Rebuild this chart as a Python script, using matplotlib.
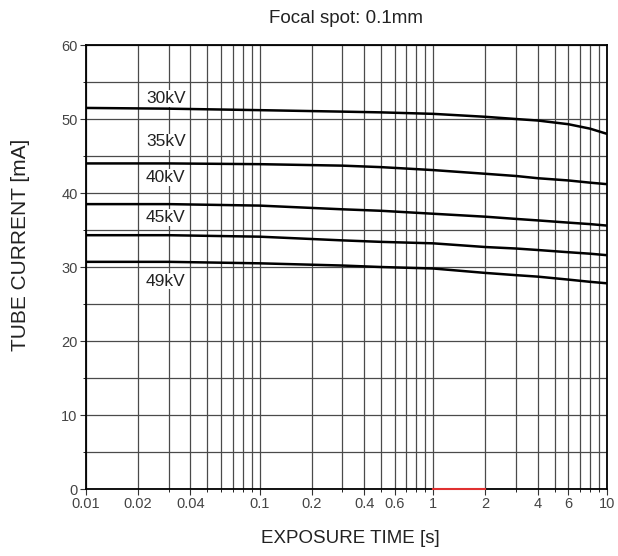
import numpy as np
import matplotlib.pyplot as plt
from matplotlib.ticker import FixedLocator, NullFormatter, MultipleLocator

plt.rcParams['font.family'] = ['Liberation Sans', 'DejaVu Sans']

# exposure time [s] at which the curves were read
time_s = [0.01, 0.03, 0.1, 0.3, 0.5, 1, 2, 3, 4, 6, 8, 10]

# tube current [mA] per voltage
ma_30kv = [51.5, 51.4, 51.2, 51.0, 50.9, 50.7, 50.3, 50.0, 49.8, 49.3, 48.7, 48.0]
ma_35kv = [44.0, 44.0, 43.9, 43.7, 43.5, 43.1, 42.6, 42.3, 42.0, 41.7, 41.4, 41.2]
ma_40kv = [38.5, 38.5, 38.3, 37.8, 37.6, 37.2, 36.8, 36.5, 36.3, 36.0, 35.8, 35.6]
ma_45kv = [34.3, 34.3, 34.1, 33.6, 33.4, 33.2, 32.7, 32.5, 32.3, 32.0, 31.8, 31.6]
ma_49kv = [30.7, 30.7, 30.5, 30.2, 30.0, 29.8, 29.2, 28.9, 28.7, 28.3, 28.0, 27.8]

curves = [ma_30kv, ma_35kv, ma_40kv, ma_45kv, ma_49kv]
curve_labels = ['30kV', '35kV', '40kV', '45kV', '49kV']
label_y = [52.8, 46.9, 42.1, 36.7, 28.1]

x_tick_vals = [0.01, 0.02, 0.04, 0.1, 0.2, 0.4, 0.6, 1, 2, 4, 6, 10]
x_tick_text = ['0.01', '0.02', '0.04', '0.1', '0.2', '0.4', '0.6', '1', '2', '4', '6', '10']

fig = plt.figure(figsize=(6.18, 5.56), dpi=100)
ax = fig.add_axes([0.139, 0.1205, 0.843, 0.7985])

ax.set_xscale('log')
ax.set_xlim(0.01, 10)
ax.set_ylim(0, 60)

# grid: every log step and every 5 mA
minor_x = [m * 10.0 ** e for e in range(-2, 1) for m in range(1, 10)] + [10]
ax.xaxis.set_major_locator(FixedLocator(x_tick_vals))
ax.xaxis.set_minor_locator(FixedLocator(minor_x))
ax.xaxis.set_minor_formatter(NullFormatter())
ax.set_xticklabels(x_tick_text)
ax.yaxis.set_major_locator(MultipleLocator(10))
ax.yaxis.set_minor_locator(MultipleLocator(5))
ax.grid(True, which='both', color='#4a4a4a', lw=0.9)

for vals in curves:
    ax.plot(time_s, vals, color='black', lw=1.8)

for lbl, yv in zip(curve_labels, label_y):
    ax.text(0.0222, yv, lbl, fontsize=12.5, va='center', ha='left', color='#222222',
            bbox=dict(facecolor='white', edgecolor='none', pad=0.5), zorder=4)

# red marker segment on the time axis
ax.plot([1, 2], [0, 0], color='#e03030', lw=1.5, zorder=5, clip_on=False)

for s in ax.spines.values():
    s.set_linewidth(1.3)
ax.tick_params(axis='both', which='major', direction='out', length=4,
               labelsize=10.5, colors='#333333', labelcolor='#444444', pad=2)
ax.tick_params(axis='both', which='minor', direction='out', length=2)

ax.set_title('Focal spot: 0.1mm', fontsize=13.5, color='#222222', pad=16)
ax.set_xlabel('EXPOSURE TIME [s]', fontsize=13.5, color='#222222')
ax.xaxis.set_label_coords(0.507, -0.092)
ax.set_ylabel('TUBE CURRENT [mA]', fontsize=15, color='#222222')
ax.yaxis.set_label_coords(-0.108, 0.55)

fig.savefig('out.png', dpi=100)
